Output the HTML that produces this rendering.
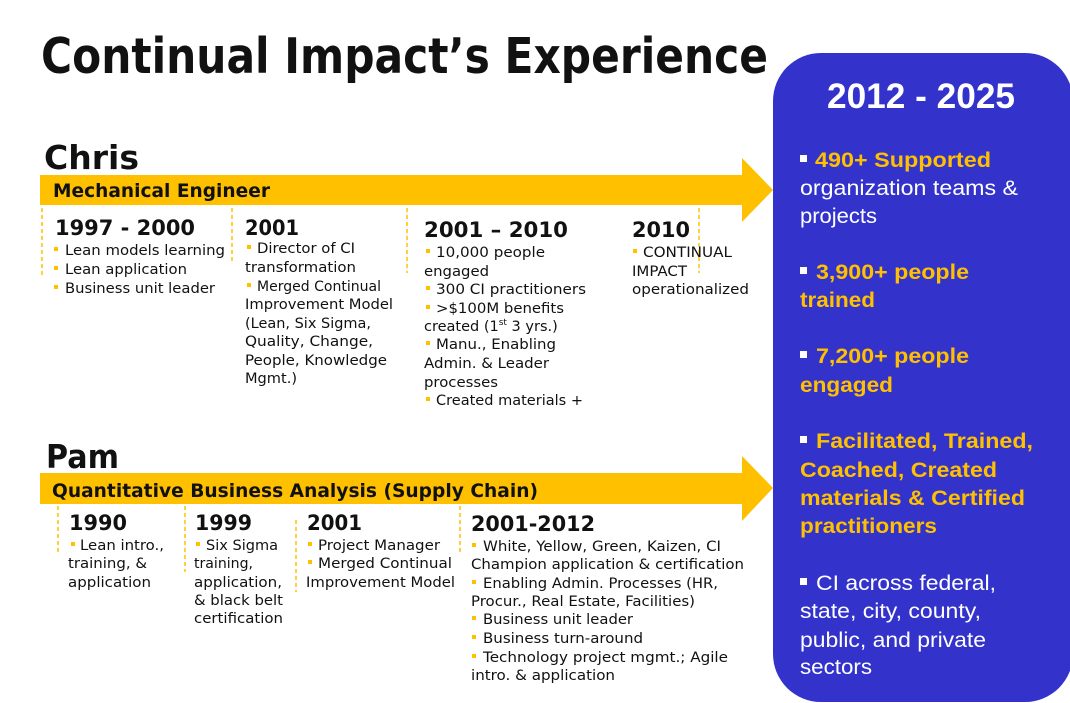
<!DOCTYPE html>
<html><head><meta charset="utf-8"><style>
html,body{margin:0;padding:0;background:#fff;}
svg{display:block;}
.t{font-family:"DejaVu Sans","Liberation Sans",sans-serif;fill:#111;}
.b{font-size:14.5px;}
.h{font-size:21px;font-weight:bold;}
.r{font-family:"Liberation Sans",Arial,sans-serif;font-size:21px;}
.ry{fill:#FFC000;font-weight:bold;}
.rw{fill:#fff;}
</style></head><body>
<svg width="1070" height="703" viewBox="0 0 1070 703" xmlns="http://www.w3.org/2000/svg">
<rect width="1070" height="703" fill="#fff"/>
<!-- Title -->
<text class="t" x="41" y="73" style="font-size:49px;font-weight:bold" textLength="727" lengthAdjust="spacingAndGlyphs">Continual Impact’s Experience</text>

<!-- Blue box -->
<rect x="773" y="53" width="300" height="649" rx="48" ry="48" fill="#3333CC"/>

<!-- Arrows -->
<polygon points="40,175 742,175 742,158 773,190 742,222 742,205 40,205" fill="#FFC000"/>
<polygon points="40,473 742,473 742,456 773,488 742,521 742,504 40,504" fill="#FFC000"/>

<!-- Names -->
<text class="t" x="44" y="169" style="font-size:33px;font-weight:bold" textLength="95" lengthAdjust="spacingAndGlyphs">Chris</text>
<text class="t" x="46" y="468" style="font-size:33px;font-weight:bold" textLength="73" lengthAdjust="spacingAndGlyphs">Pam</text>
<text class="t" x="53" y="197" style="font-size:19px;font-weight:bold" textLength="217" lengthAdjust="spacingAndGlyphs">Mechanical Engineer</text>
<text class="t" x="52" y="497" style="font-size:19px;font-weight:bold" textLength="486" lengthAdjust="spacingAndGlyphs">Quantitative Business Analysis (Supply Chain)</text>

<!-- Dashed lines -->
<g stroke="#FFC000" stroke-width="1.5" stroke-dasharray="4,3" fill="none">
<line x1="42" y1="208" x2="42" y2="278"/>
<line x1="232" y1="208" x2="232" y2="262"/>
<line x1="407" y1="208" x2="407" y2="273"/>
<line x1="699" y1="208" x2="699" y2="273"/>
<line x1="58" y1="506" x2="58" y2="553"/>
<line x1="185" y1="506" x2="185" y2="572"/>
<line x1="296" y1="520" x2="296" y2="592"/>
<line x1="460" y1="506" x2="460" y2="555"/>
</g>

<!-- Chris headings -->
<text class="t h" x="55" y="235" textLength="140" lengthAdjust="spacingAndGlyphs">1997 - 2000</text>
<text class="t h" x="245" y="235" textLength="54" lengthAdjust="spacingAndGlyphs">2001</text>
<text class="t h" x="424" y="237" textLength="144" lengthAdjust="spacingAndGlyphs">2001 – 2010</text>
<text class="t h" x="632" y="237" textLength="58" lengthAdjust="spacingAndGlyphs">2010</text>

<!-- bullets (yellow small squares) -->
<g fill="#FFC000">
<rect x="54" y="247" width="4" height="4"/>
<rect x="54" y="266" width="4" height="4"/>
<rect x="54" y="285" width="4" height="4"/>
<rect x="247" y="245" width="4" height="4"/>
<rect x="247" y="283" width="4" height="4"/>
<rect x="426" y="249" width="4" height="4"/>
<rect x="426" y="286" width="4" height="4"/>
<rect x="426" y="305" width="4" height="4"/>
<rect x="426" y="341" width="4" height="4"/>
<rect x="426" y="397" width="4" height="4"/>
<rect x="633" y="249" width="4" height="4"/>
<rect x="71" y="542" width="4" height="4"/>
<rect x="196" y="542" width="4" height="4"/>
<rect x="308" y="542" width="4" height="4"/>
<rect x="308" y="560" width="4" height="4"/>
<rect x="472" y="543" width="4" height="4"/>
<rect x="472" y="580" width="4" height="4"/>
<rect x="472" y="616" width="4" height="4"/>
<rect x="472" y="635" width="4" height="4"/>
<rect x="472" y="654" width="4" height="4"/>
</g>

<!-- Chris col1 -->
<text class="t b" x="65" y="255" textLength="160" lengthAdjust="spacingAndGlyphs">Lean models learning</text>
<text class="t b" x="65" y="274" textLength="122" lengthAdjust="spacingAndGlyphs">Lean application</text>
<text class="t b" x="65" y="293" textLength="150" lengthAdjust="spacingAndGlyphs">Business unit leader</text>
<!-- Chris col2 -->
<text class="t b" x="257" y="253" textLength="98" lengthAdjust="spacingAndGlyphs">Director of CI</text>
<text class="t b" x="245" y="272" textLength="111" lengthAdjust="spacingAndGlyphs">transformation</text>
<text class="t b" x="257" y="291" textLength="124" lengthAdjust="spacingAndGlyphs">Merged Continual</text>
<text class="t b" x="245" y="309" textLength="148" lengthAdjust="spacingAndGlyphs">Improvement Model</text>
<text class="t b" x="245" y="328" textLength="126" lengthAdjust="spacingAndGlyphs">(Lean, Six Sigma,</text>
<text class="t b" x="245" y="346" textLength="128" lengthAdjust="spacingAndGlyphs">Quality, Change,</text>
<text class="t b" x="245" y="365" textLength="142" lengthAdjust="spacingAndGlyphs">People, Knowledge</text>
<text class="t b" x="245" y="383" textLength="52" lengthAdjust="spacingAndGlyphs">Mgmt.)</text>
<!-- Chris col3 -->
<text class="t b" x="436" y="257" textLength="109" lengthAdjust="spacingAndGlyphs">10,000 people</text>
<text class="t b" x="424" y="276" textLength="65" lengthAdjust="spacingAndGlyphs">engaged</text>
<text class="t b" x="436" y="294" textLength="150" lengthAdjust="spacingAndGlyphs">300 CI practitioners</text>
<text class="t b" x="436" y="313" textLength="128" lengthAdjust="spacingAndGlyphs">&gt;$100M benefits</text>
<text class="t b" x="424" y="331">created (1<tspan style="font-size:9px" dy="-6">st</tspan><tspan dy="6"> 3 yrs.)</tspan></text>
<text class="t b" x="436" y="349" textLength="120" lengthAdjust="spacingAndGlyphs">Manu., Enabling</text>
<text class="t b" x="424" y="368" textLength="125" lengthAdjust="spacingAndGlyphs">Admin. &amp; Leader</text>
<text class="t b" x="424" y="387" textLength="74" lengthAdjust="spacingAndGlyphs">processes</text>
<text class="t b" x="436" y="405" textLength="147" lengthAdjust="spacingAndGlyphs">Created materials +</text>
<!-- Chris col4 -->
<text class="t b" x="643" y="257" textLength="89" lengthAdjust="spacingAndGlyphs">CONTINUAL</text>
<text class="t b" x="632" y="276" textLength="55" lengthAdjust="spacingAndGlyphs">IMPACT</text>
<text class="t b" x="632" y="294" textLength="117" lengthAdjust="spacingAndGlyphs">operationalized</text>

<!-- Pam headings -->
<text class="t h" x="69" y="530" textLength="58" lengthAdjust="spacingAndGlyphs">1990</text>
<text class="t h" x="195" y="530" textLength="57" lengthAdjust="spacingAndGlyphs">1999</text>
<text class="t h" x="307" y="530" textLength="55" lengthAdjust="spacingAndGlyphs">2001</text>
<text class="t h" x="471" y="531" textLength="124" lengthAdjust="spacingAndGlyphs">2001-2012</text>

<!-- Pam col1 -->
<text class="t b" x="80" y="550" textLength="84" lengthAdjust="spacingAndGlyphs">Lean intro.,</text>
<text class="t b" x="68" y="568" textLength="79" lengthAdjust="spacingAndGlyphs">training, &amp;</text>
<text class="t b" x="68" y="587" textLength="83" lengthAdjust="spacingAndGlyphs">application</text>
<!-- Pam col2 -->
<text class="t b" x="206" y="550" textLength="72" lengthAdjust="spacingAndGlyphs">Six Sigma</text>
<text class="t b" x="194" y="568" textLength="59" lengthAdjust="spacingAndGlyphs">training,</text>
<text class="t b" x="194" y="587" textLength="88" lengthAdjust="spacingAndGlyphs">application,</text>
<text class="t b" x="194" y="605" textLength="89" lengthAdjust="spacingAndGlyphs">&amp; black belt</text>
<text class="t b" x="194" y="623" textLength="89" lengthAdjust="spacingAndGlyphs">certification</text>
<!-- Pam col3 -->
<text class="t b" x="318" y="550" textLength="122" lengthAdjust="spacingAndGlyphs">Project Manager</text>
<text class="t b" x="318" y="568" textLength="134" lengthAdjust="spacingAndGlyphs">Merged Continual</text>
<text class="t b" x="306" y="587" textLength="149" lengthAdjust="spacingAndGlyphs">Improvement Model</text>
<!-- Pam col4 -->
<text class="t b" x="483" y="551" textLength="238" lengthAdjust="spacingAndGlyphs">White, Yellow, Green, Kaizen, CI</text>
<text class="t b" x="471" y="569" textLength="273" lengthAdjust="spacingAndGlyphs">Champion application &amp; certification</text>
<text class="t b" x="483" y="588" textLength="235" lengthAdjust="spacingAndGlyphs">Enabling Admin. Processes (HR,</text>
<text class="t b" x="471" y="606" textLength="224" lengthAdjust="spacingAndGlyphs">Procur., Real Estate, Facilities)</text>
<text class="t b" x="483" y="624" textLength="150" lengthAdjust="spacingAndGlyphs">Business unit leader</text>
<text class="t b" x="483" y="643" textLength="160" lengthAdjust="spacingAndGlyphs">Business turn-around</text>
<text class="t b" x="483" y="662" textLength="245" lengthAdjust="spacingAndGlyphs">Technology project mgmt.; Agile</text>
<text class="t b" x="471" y="680" textLength="144" lengthAdjust="spacingAndGlyphs">intro. &amp; application</text>

<!-- Right box text -->
<text x="827" y="108" style="font-family:'Liberation Sans',Arial,sans-serif;font-size:35px;font-weight:bold;fill:#fff" textLength="188" lengthAdjust="spacingAndGlyphs">2012 - 2025</text>
<g fill="#fff">
<rect x="800" y="155" width="7" height="7"/>
<rect x="800" y="267" width="7" height="7"/>
<rect x="800" y="351" width="7" height="7"/>
<rect x="800" y="436" width="7" height="7"/>
<rect x="800" y="578" width="7" height="7"/>
</g>
<text class="r ry" x="815" y="167" textLength="176" lengthAdjust="spacingAndGlyphs">490+ Supported</text>
<text class="r rw" x="800" y="195" textLength="218" lengthAdjust="spacingAndGlyphs">organization teams &amp;</text>
<text class="r rw" x="800" y="223" textLength="77" lengthAdjust="spacingAndGlyphs">projects</text>
<text class="r ry" x="816" y="279" textLength="153" lengthAdjust="spacingAndGlyphs">3,900+ people</text>
<text class="r ry" x="800" y="307" textLength="75" lengthAdjust="spacingAndGlyphs">trained</text>
<text class="r ry" x="816" y="363" textLength="153" lengthAdjust="spacingAndGlyphs">7,200+ people</text>
<text class="r ry" x="800" y="392" textLength="93" lengthAdjust="spacingAndGlyphs">engaged</text>
<text class="r ry" x="816" y="448" textLength="217" lengthAdjust="spacingAndGlyphs">Facilitated, Trained,</text>
<text class="r ry" x="800" y="477" textLength="197" lengthAdjust="spacingAndGlyphs">Coached, Created</text>
<text class="r ry" x="800" y="505" textLength="225" lengthAdjust="spacingAndGlyphs">materials &amp; Certified</text>
<text class="r ry" x="800" y="533" textLength="137" lengthAdjust="spacingAndGlyphs">practitioners</text>
<text class="r rw" x="816" y="590" textLength="180" lengthAdjust="spacingAndGlyphs">CI across federal,</text>
<text class="r rw" x="800" y="618" textLength="181" lengthAdjust="spacingAndGlyphs">state, city, county,</text>
<text class="r rw" x="800" y="647" textLength="186" lengthAdjust="spacingAndGlyphs">public, and private</text>
<text class="r rw" x="800" y="674" textLength="72" lengthAdjust="spacingAndGlyphs">sectors</text>
</svg>
</body></html>
